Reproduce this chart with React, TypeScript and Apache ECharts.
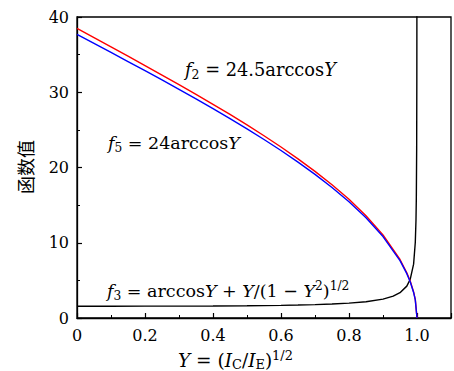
import React, { useEffect, useRef } from "react";
import * as echarts from "echarts";

// x values (Y) sampled for f2 and f5
const Y_MAIN = [0, 0.05, 0.1, 0.15, 0.2, 0.25, 0.3, 0.35, 0.4, 0.45, 0.5, 0.55, 0.6, 0.65, 0.7, 0.75, 0.8, 0.85, 0.9, 0.95, 0.97, 0.98, 0.99, 0.995, 1.0];
// f2 = 24.5 arccos Y (red)
const F2 = [38.48, 37.26, 36.03, 34.79, 33.55, 32.29, 31.02, 29.72, 28.4, 27.05, 25.66, 24.22, 22.72, 21.15, 19.49, 17.71, 15.77, 13.59, 11.05, 7.78, 6.02, 4.91, 3.47, 2.45, 0];
// f5 = 24 arccos Y (blue)
const F5 = [37.7, 36.5, 35.29, 34.08, 32.87, 31.63, 30.39, 29.12, 27.82, 26.5, 25.13, 23.72, 22.26, 20.72, 19.09, 17.34, 15.44, 13.32, 10.82, 7.62, 5.89, 4.81, 3.4, 2.4, 0];
// x values for f3
const Y_F3 = [0, 0.1, 0.2, 0.3, 0.4, 0.5, 0.6, 0.65, 0.7, 0.75, 0.8, 0.85, 0.9, 0.93, 0.95, 0.97, 0.98, 0.99, 0.995, 0.997, 0.998, 0.999, 0.9995, 0.9997];
// f3 = arccos Y + Y/(1-Y^2)^(1/2) (black)
const F3 = [1.571, 1.571, 1.574, 1.581, 1.596, 1.625, 1.677, 1.719, 1.776, 1.857, 1.977, 2.168, 2.516, 2.906, 3.361, 4.236, 5.125, 7.158, 10.06, 12.96, 15.85, 22.39, 31.64, 40.84];

const X_TICKS = [0, 0.2, 0.4, 0.6, 0.8, 1.0];
const Y_TICKS = [0, 10, 20, 30, 40];

const SERIF = "DejaVu Serif";

const zip = (xs: number[], ys: number[]) => xs.map((x, i) => [x, ys[i]]);

const richBase = (size: number) => ({
  n: { fontFamily: SERIF, fontSize: size, lineHeight: 22, fill: "#000" },
  i: { fontFamily: SERIF, fontSize: size, fontStyle: "italic", lineHeight: 22, fill: "#000" },
  sub: { fontFamily: SERIF, fontSize: size * 0.7, lineHeight: 12, verticalAlign: "bottom", fill: "#000" },
  sup: { fontFamily: SERIF, fontSize: size * 0.7, lineHeight: 12, verticalAlign: "top", fill: "#000" },
});

const label = (x: number, y: number, text: string, size = 17.5) => ({
  type: "text",
  left: x,
  top: y,
  z: 100,
  style: {
    text,
    rich: richBase(size),
    fill: "#000",
    font: `${size}px ${SERIF}`,
  },
});

export default function App() {
  const ref = useRef<HTMLDivElement>(null);
  useEffect(() => {
    if (!ref.current) return;
    const chart = echarts.init(ref.current, null, { renderer: "svg" });
    const axisCommon = {
      axisLine: { show: true, lineStyle: { color: "#000", width: 1.3 } },
      axisTick: { show: true, inside: true, length: 5, lineStyle: { color: "#000", width: 1.2 } },
      minorTick: { show: true, splitNumber: 2, length: 3, lineStyle: { color: "#000", width: 1 } },
      splitLine: { show: false },
      axisLabel: { color: "#000", fontFamily: SERIF, fontSize: 16, margin: 8 },
    };
    chart.setOption({
      animation: false,
      backgroundColor: "#fff",
      grid: { left: 77, top: 17, right: -1, bottom: 53, show: true, borderColor: "#000", borderWidth: 1.3, backgroundColor: "transparent" },
      xAxis: {
        type: "value",
        min: 0,
        max: 1.1,
        interval: 0.2,
        ...axisCommon,
        axisLabel: {
          ...axisCommon.axisLabel,
          margin: 9,
          formatter: (v: number) => {
            const hit = X_TICKS.find((t) => Math.abs(t - v) < 1e-6);
            if (hit === undefined) return "";
            return hit === 0 ? "0" : hit.toFixed(1);
          },
        },
      },
      yAxis: {
        type: "value",
        min: 0,
        max: 40,
        interval: 10,
        ...axisCommon,
        axisLabel: {
          ...axisCommon.axisLabel,
          formatter: (v: number) => (Y_TICKS.includes(v) ? String(v) : ""),
        },
      },
      series: [
        { type: "line", data: zip(Y_F3, F3), showSymbol: false, clip: true, lineStyle: { color: "#000", width: 1.4 }, itemStyle: { color: "#000" } },
        { type: "line", data: zip(Y_MAIN, F2), showSymbol: false, clip: true, lineStyle: { color: "#ff0000", width: 1.4 }, itemStyle: { color: "#ff0000" } },
        { type: "line", data: zip(Y_MAIN, F5), showSymbol: false, clip: true, lineStyle: { color: "#0000ff", width: 1.4 }, itemStyle: { color: "#0000ff" } },
      ],
      graphic: [
        label(185, 60, "{i|f}{sub|2}{n| = 24.5arccos}{i|Y}", 17.8),
        label(108, 134, "{i|f}{sub|5}{n| = 24arccos}{i|Y}"),
        label(107, 280, "{i|f}{sub|3}{n| = arccos}{i|Y}{n| + }{i|Y}{n|/(1 − }{i|Y}{sup|2}{n|)}{sup|1/2}"),
        label(178, 349, "{i|Y}{n| = (}{i|I}{sub|C}{n|/}{i|I}{sub|E}{n|)}{sup|1/2}", 18.5),
        {
          type: "text",
          x: 25,
          y: 167,
          rotation: Math.PI / 2,
          style: {
            text: "函数值",
            font: "18px 'Noto Sans CJK SC'",
            fill: "#000",
            align: "center",
            verticalAlign: "middle",
          },
        },
      ],
    });
    return () => chart.dispose();
  }, []);
  return <div ref={ref} style={{ position: "fixed", left: 0, top: 0, width: 454, height: 371 }} />;
}
